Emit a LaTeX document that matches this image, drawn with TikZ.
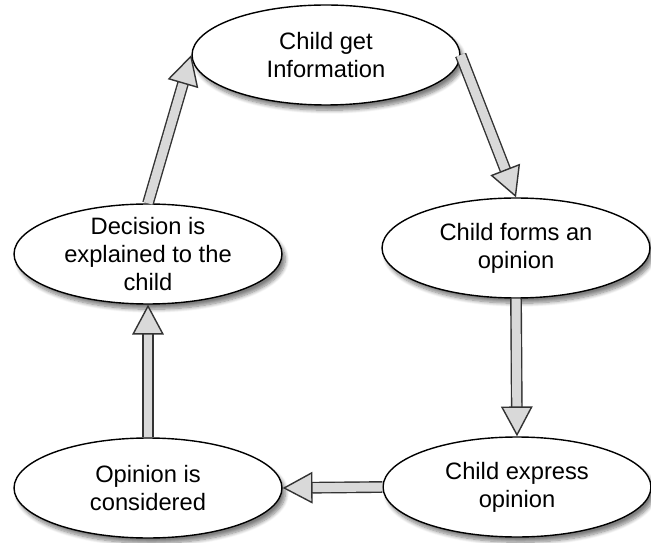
\documentclass[tikz,border=0pt]{standalone}
\usepackage{fontspec}
\setmainfont{Liberation Sans}
\usetikzlibrary{arrows.meta,shapes.geometric,shadows.blur}
\begin{document}
\begin{tikzpicture}[x=0.02cm,y=-0.02cm]
\tikzstyle{every node}=[ellipse,draw,thick,fill=white,minimum width=5.36cm,minimum height=2cm,inner sep=0pt,align=center,
  font=\fontsize{13.5}{16}\selectfont,blur shadow={shadow xshift=2pt,shadow yshift=-3pt,shadow blur steps=8,shadow opacity=50}]
\tikzstyle{flow}=[draw=black!80,line width=0.8pt,double=black!15,double distance=5.1pt,-{Triangle[length=17pt,width=18pt,fill=black!15]}]
\useasboundingbox (0,0) rectangle (651,543);
\node at (326,55) (info) {Child get\\Information};
\node at (516,248) (forms) {Child forms an\\opinion};
\node at (517,487) (expr) {Child express\\opinion};
\node at (148,488) (cons) {Opinion is\\considered};
\node[inner ysep=-4pt] at (148,254) (expl) {Decision is\\explained to the\\child};
\draw[flow] (info.east) -- (forms.north);
\draw[flow] (forms.south) -- (expr.north);
\draw[flow] (expr.west) -- (cons.east);
\draw[flow] (cons.north) -- (expl.south);
\draw[flow] (expl.north) -- (info.west);
\end{tikzpicture}
\end{document}
